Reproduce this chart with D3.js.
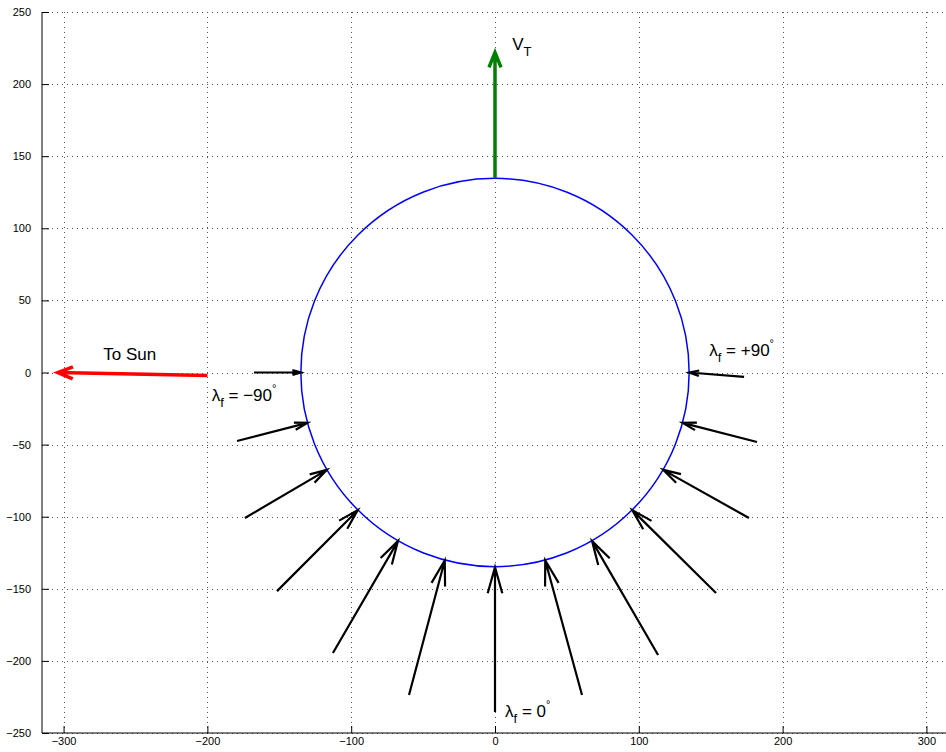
<!DOCTYPE html>
<html>
<head>
<meta charset="utf-8">
<script src="https://cdn.jsdelivr.net/npm/d3@7"></script>
<style>
  html, body { margin: 0; padding: 0; background: #fff; }
  svg { display: block; font-family: "Liberation Sans", Arial, sans-serif; }
</style>
</head>
<body>
<svg id="chart" width="946" height="752"></svg>
<script>
// data
const xTicks = [-300, -200, -100, 0, 100, 200, 300];
const yTicks = [-250, -200, -150, -100, -50, 0, 50, 100, 150, 200, 250];
const radius = 135;
const lambdas = [-90, -75, -60, -45, -30, -15, 0, 15, 30, 45, 60, 75, 90];
const tailX = [-167.6, -179.4, -173.9, -151.6, -112.7, -59.8, 0, 60.5, 113.4, 153.7, 176.6, 182.2, 173.2];
const tailY = [0, -47.5, -100.9, -151.6, -194.5, -223.6, -235.4, -223.6, -195.9, -152.9, -100.9, -48.2, -3.1];
const sunArrow = {x1: -200, y1: -2, x2: -304, y2: 0};
const vtArrow = {x1: 0, y1: 135, x2: 0, y2: 222};

const svg = d3.select("#chart");
const W = 946, H = 752;

// scales
const x = d3.scaleLinear().domain([-315, 315]).range([42, 948]);
const y = d3.scaleLinear().domain([-250, 250]).range([733, 12]);

// grid
const grid = svg.append("g").attr("class", "grid")
    .style("stroke", "#555").style("stroke-width", 1).style("stroke-dasharray", "1,4");
grid.selectAll("line.gx").data(xTicks).enter().append("line")
    .attr("x1", d => Math.round(x(d)) + 0.5).attr("x2", d => Math.round(x(d)) + 0.5)
    .attr("y1", y(250)).attr("y2", y(-250));
grid.selectAll("line.gy").data(yTicks).enter().append("line")
    .attr("x1", x(-315)).attr("x2", W)
    .attr("y1", d => Math.round(y(d)) + 0.5).attr("y2", d => Math.round(y(d)) + 0.5);

// axes
const minus = d => d < 0 ? "\u2212" + Math.abs(d) : d;
const axisX = d3.axisBottom(x).tickValues(xTicks).tickSize(-7).tickPadding(4).tickFormat(minus);
const axisY = d3.axisLeft(y).tickValues(yTicks).tickSize(-7).tickPadding(11).tickFormat(minus);

const gx = svg.append("g").attr("transform", `translate(0,${y(-250)})`).call(axisX);
const gy = svg.append("g").attr("transform", `translate(${x(-315)},0)`).call(axisY);
[gx, gy].forEach(g => {
    g.selectAll("text").style("font-size", "11px").style("fill", "#000")
        .style("font-family", "'Liberation Sans', Arial, sans-serif");
    g.selectAll("line").style("stroke", "#000");
    g.select(".domain").remove();
});
svg.append("line").attr("x1", x(-315)).attr("x2", x(-315)).attr("y1", y(250)).attr("y2", y(-250))
    .style("stroke", "#000");
svg.append("line").attr("x1", x(-315)).attr("x2", W).attr("y1", y(-250)).attr("y2", y(-250))
    .style("stroke", "#000");

// circle
svg.append("circle")
    .attr("cx", x(0)).attr("cy", y(0))
    .attr("r", x(radius) - x(0))
    .style("fill", "none").style("stroke", "#0000ff").style("stroke-width", 1.5);

// arrow helper (pixel coords)
function arrowPath(px1, py1, px2, py2, headLen, headW) {
    const dx = px2 - px1, dy = py2 - py1;
    const L = Math.hypot(dx, dy);
    const ux = dx / L, uy = dy / L;
    const bx = px2 - ux * headLen, by = py2 - uy * headLen;
    const p = d3.path();
    p.moveTo(px1, py1); p.lineTo(px2, py2);
    p.moveTo(bx - uy * headW, by + ux * headW);
    p.lineTo(px2, py2);
    p.lineTo(bx + uy * headW, by - ux * headW);
    return p.toString();
}

// flow arrows
const arrows = lambdas.map((l, i) => ({
    x1: tailX[i], y1: tailY[i],
    x2: radius * Math.sin(l * Math.PI / 180),
    y2: -radius * Math.cos(l * Math.PI / 180)
}));
svg.append("g").selectAll("path").data(arrows).enter().append("path")
    .attr("d", d => {
        const px1 = x(d.x1), py1 = y(d.y1), px2 = x(d.x2), py2 = y(d.y2);
        const L = Math.hypot(px2 - px1, py2 - py1);
        const h = 0.18 * L;
        return arrowPath(px1, py1, px2, py2, h, 0.28 * h);
    })
    .style("fill", "none").style("stroke", "#000").style("stroke-width", 2.2)
    .style("stroke-linejoin", "miter");

// To Sun arrow
svg.append("path")
    .attr("d", arrowPath(x(sunArrow.x1), y(sunArrow.y1), x(sunArrow.x2), y(sunArrow.y2), 15, 6))
    .style("fill", "none").style("stroke", "#ff0000").style("stroke-width", 3.5);

// V_T arrow
svg.append("path")
    .attr("d", arrowPath(x(vtArrow.x1), y(vtArrow.y1), x(vtArrow.x2), y(vtArrow.y2), 15, 6))
    .style("fill", "none").style("stroke", "#008000").style("stroke-width", 3.5);

// labels
const fs = 17;
function label(px, py, parts) {
    const t = svg.append("text").attr("x", px).attr("y", py)
        .style("font-size", fs + "px").style("fill", "#000");
    parts.forEach(p => {
        const s = t.append("tspan").text(p.t);
        if (p.sub) s.attr("dy", 6).style("font-size", "13px");
        if (p.sup) s.attr("dy", -9).style("font-size", "11px");
        if (p.back) s.attr("dy", p.back);
    });
    return t;
}
label(x(-254), y(12.8) + 6, [{t: "To Sun"}]).attr("text-anchor", "middle");
label(x(12), y(228) + 6, [{t: "V"}, {t: "T", sub: true}]);
label(x(-197), y(-15.6) + 6, [{t: "\u03bb"}, {t: "f", sub: true}, {t: " = \u221290", back: -6}, {t: "\u00b0", sup: true}]);
label(x(149), y(15.6) + 6, [{t: "\u03bb"}, {t: "f", sub: true}, {t: " = +90", back: -6}, {t: "\u00b0", sup: true}]);
label(x(7), y(-235) + 6, [{t: "\u03bb"}, {t: "f", sub: true}, {t: " = 0", back: -6}, {t: "\u00b0", sup: true}]);
</script>
</body>
</html>
